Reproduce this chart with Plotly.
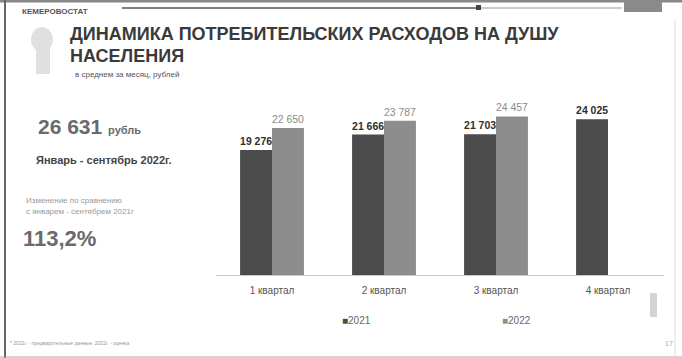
import plotly.graph_objects as go

categories = ["1 квартал", "2 квартал", "3 квартал", "4 квартал"]
values_2021 = [19276, 21666, 21703, 24025]
values_2022 = [22650, 23787, 24457, None]
series_names = ["2021", "2022"]

W, H = 682, 358
def px(x): return x / W
def py(y): return 1 - y / H

def fmt(v):
    return "" if v is None else f"{v:,}".replace(",", " ")

fig = go.Figure()
fig.add_trace(go.Bar(
    x=categories, y=values_2021, name=series_names[0],
    marker=dict(color="#4b4b4b", line=dict(width=0)),
    text=[fmt(v) for v in values_2021], textposition="outside",
    textfont=dict(family="Liberation Sans, Arial", size=11, color="#2e2e2e", weight="bold"),
    cliponaxis=False,
))
fig.add_trace(go.Bar(
    x=categories, y=values_2022, name=series_names[1],
    marker=dict(color="#8d8d8d", line=dict(width=0)),
    text=[fmt(v) for v in values_2022], textposition="outside",
    textfont=dict(family="Liberation Sans, Arial", size=11, color="#8a8a8a"),
    cliponaxis=False,
))

font = "Liberation Sans, Arial, sans-serif"
ann = []
def A(x, y, text, size, color="#333", bold=False, xanchor="left", yanchor="middle"):
    ann.append(dict(x=px(x), y=py(y), xref="paper", yref="paper", text=(f"<b>{text}</b>" if bold else text),
                    showarrow=False, xanchor=xanchor, yanchor=yanchor,
                    font=dict(family=font, size=size, color=color)))

A(20, 11, "КЕМЕРОВОСТАТ", 8, "#555", True)
A(68, 34, "ДИНАМИКА ПОТРЕБИТЕЛЬСКИХ РАСХОДОВ НА ДУШУ", 18, "#3a3a3a", True)
A(68, 56, "НАСЕЛЕНИЯ", 18, "#3a3a3a", True)
A(73, 74, "в среднем за месяц, рублей", 8, "#555")
A(36, 126, "26 631 <span style='font-size:11px'>рубль</span>", 21, "#6a6a6a", True)
A(34, 160, "Январь - сентябрь 2022г.", 11, "#444", True)
A(24, 200, "Изменение по сравнению", 8, "#999")
A(24, 211, "с январем - сентябрем 2021г", 8, "#999")
A(21, 238, "113,2%", 22, "#6a6a6a", True)
A(340, 320, "<span style='color:#4b4b4b'>■</span>2021", 10, "#666")
A(500, 320, "<span style='color:#8d8d8d'>■</span>2022", 10, "#666")
A(8, 343, "* 2021г. - предварительные данные, 2022г. - оценка", 5, "#999")
A(663, 343, "17", 7, "#aaa")

shapes = [
    dict(type="line", xref="paper", yref="paper", x0=0, x1=1, y0=py(1), y1=py(1), line=dict(color="#888", width=3)),
    dict(type="line", xref="paper", yref="paper", x0=px(5), x1=px(5), y0=0, y1=1, line=dict(color="#666", width=2)),
    dict(type="line", xref="paper", yref="paper", x0=0, x1=1, y0=py(357), y1=py(357), line=dict(color="#aaa", width=1)),
    dict(type="line", xref="paper", yref="paper", x0=px(675), x1=px(675), y0=py(20), y1=py(357), line=dict(color="#ddd", width=1)),
    dict(type="line", xref="paper", yref="paper", x0=px(122), x1=px(476), y0=py(8), y1=py(8), line=dict(color="#555", width=1.5)),
    dict(type="rect", xref="paper", yref="paper", x0=px(476), x1=px(481), y0=py(5), y1=py(10), fillcolor="#444", line=dict(width=0)),
    dict(type="line", xref="paper", yref="paper", x0=px(481), x1=px(622), y0=py(8), y1=py(8), line=dict(color="#999", width=1)),
    dict(type="rect", xref="paper", yref="paper", x0=px(624), x1=px(662), y0=py(1), y1=py(12), fillcolor="#8a8a8a", line=dict(width=0)),
    dict(type="circle", xref="paper", yref="paper", x0=px(31), x1=px(53), y0=py(52), y1=py(27), fillcolor="#e0e0e0", line=dict(width=0)),
    dict(type="rect", xref="paper", yref="paper", x0=px(36), x1=px(50), y0=py(74), y1=py(48), fillcolor="#e0e0e0", line=dict(width=0)),
    dict(type="rect", xref="paper", yref="paper", x0=px(650), x1=px(657), y0=py(317), y1=py(293), fillcolor="#d4d4d4", line=dict(width=0)),
]

fig.update_layout(
    width=W, height=H, margin=dict(l=0, r=0, t=0, b=0),
    paper_bgcolor="white", plot_bgcolor="white",
    barmode="group", bargap=0.43, bargroupgap=0,
    showlegend=False,
    xaxis=dict(domain=[px(216), px(664)], showline=True, linecolor="#c8c8c8", linewidth=1,
               ticks="", ticklabelstandoff=6, tickfont=dict(family=font, size=10, color="#555"), showgrid=False),
    yaxis=dict(domain=[py(275), py(100)], range=[0, 26985], visible=False, showgrid=False),
    annotations=ann, shapes=shapes,
    font=dict(family=font),
)
fig.write_html("out.html")
